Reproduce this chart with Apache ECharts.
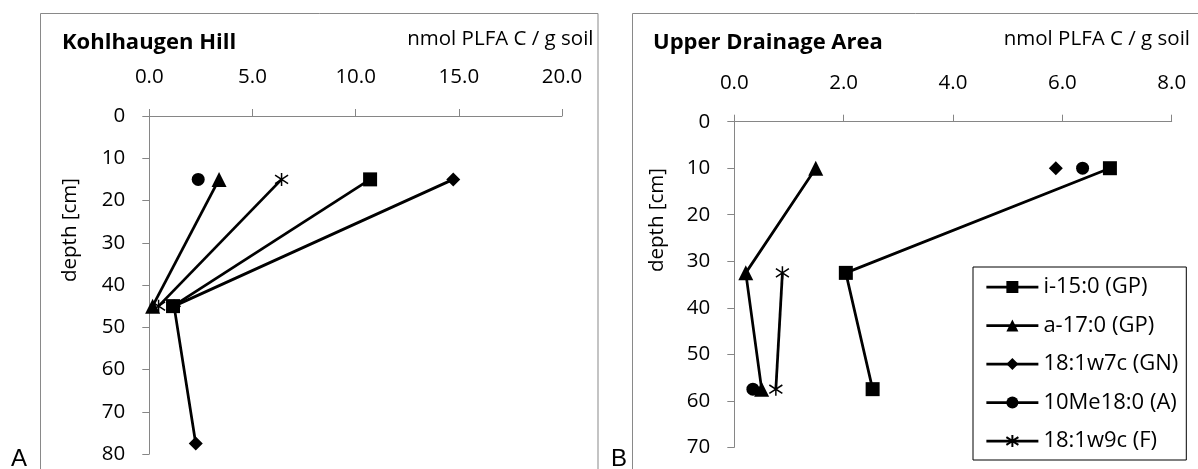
<!DOCTYPE html>
<html><head><meta charset="utf-8">
<script src="https://cdn.jsdelivr.net/npm/echarts@6/dist/echarts.min.js"></script>
<style>html,body{margin:0;padding:0;background:#fff}#c{width:1198px;height:469px}</style>
</head><body><div id="c"></div>
<script>
// ---- data ----
const seriesNames = ['i-15:0 (GP)', 'a-17:0 (GP)', '18:1w7c (GN)', '10Me18:0 (A)', '18:1w9c (F)'];
// Panel A: Kohlhaugen Hill (depth in cm, values in nmol PLFA C / g soil)
const depthA = [15, 45, 77.5];
const a_i15 = [10.7, 1.15, null];
const a_a17 = [3.38, 0.16, null];
const a_18w7 = [14.73, 1.2, 2.25];
const a_10Me = [2.37, null, null];
const a_18w9 = [6.41, 0.45, null];
// Panel B: Upper Drainage Area
const depthB = [10, 32.5, 57.5];
const b_i15 = [6.87, 2.04, 2.53];
const b_a17 = [1.49, 0.21, 0.50];
const b_18w7 = [5.88, null, null];
const b_10Me = [6.37, null, 0.34];
const b_18w9 = [null, 0.88, 0.76];
// tick values
const xTicksA = [0, 5, 10, 15, 20];
const yTicksA = [0, 10, 20, 30, 40, 50, 60, 70, 80];
const xTicksB = [0, 2, 4, 6, 8];
const yTicksB = [0, 10, 20, 30, 40, 50, 60, 70];

// ---- styles ----
const FONT = 'Open Sans';
const FS = 20.5;
const AX = '#868686';
const LW = 2.75;
const starPath = 'path://M5,0 L5,10 M0.6,1.8 L9.4,8.2 M0.6,8.2 L9.4,1.8';
const symbols = ['rect', 'triangle', 'diamond', 'circle', starPath];
const symSizes = [14, 15, 14, 13, 13];

function mk(vals, depth) {
  return depth.map((d, i) => vals[i] == null ? ['-', d] : [vals[i], d]);
}
function xAxis(ticks, gi) {
  return {
    type: 'value', gridIndex: gi, position: 'top',
    min: ticks[0], max: ticks[ticks.length - 1], interval: ticks[1] - ticks[0],
    axisLine: {show: true, lineStyle: {color: AX, width: 1}},
    axisTick: {show: true, length: 7, lineStyle: {color: AX, width: 1}},
    splitLine: {show: false},
    axisLabel: {formatter: v => v.toFixed(1), fontSize: FS, fontFamily: FONT, color: '#000', margin: 28}
  };
}
function yAxis(ticks, gi) {
  return {
    type: 'value', gridIndex: gi, inverse: true,
    min: ticks[0], max: ticks[ticks.length - 1], interval: ticks[1] - ticks[0],
    axisLine: {show: true, lineStyle: {color: AX, width: 1}},
    axisTick: {show: true, length: 7, lineStyle: {color: AX, width: 1}},
    splitLine: {show: false},
    axisLabel: {fontSize: FS, fontFamily: FONT, color: '#000', margin: 24}
  };
}
function ser(i, vals, depth, gi) {
  const isStar = i === 4;
  return {
    type: 'line', name: seriesNames[i], xAxisIndex: gi, yAxisIndex: gi,
    data: mk(vals, depth), symbol: symbols[i], symbolSize: symSizes[i],
    showAllSymbol: true, connectNulls: false, z: 2 + i,
    lineStyle: {color: '#000', width: LW},
    itemStyle: isStar ? {color: '#000', borderColor: '#000', borderWidth: 1.5} : {color: '#000', borderWidth: 0},
    emphasis: {disabled: true}
  };
}
const aVals = [a_i15, a_a17, a_18w7, a_10Me, a_18w9];
const bVals = [b_i15, b_a17, b_18w7, b_10Me, b_18w9];
const series = [];
aVals.forEach((v, i) => series.push(ser(i, v, depthA, 0)));
bVals.forEach((v, i) => series.push(ser(i, v, depthB, 1)));

const txt = (x, y, text, extra) => ({type: 'text', x, y, z: 10, style: Object.assign({text, fontFamily: FONT, fontSize: FS, fill: '#000', verticalAlign: 'middle'}, extra || {})});

const chart = echarts.init(document.getElementById('c'), null, {renderer: 'canvas'});
chart.setOption({
  animation: false,
  backgroundColor: '#fff',
  grid: [
    {left: 149.3, top: 116, width: 412.7, height: 338},
    {left: 734.3, top: 121.7, width: 437.4, height: 325.6}
  ],
  xAxis: [xAxis(xTicksA, 0), xAxis(xTicksB, 1)],
  yAxis: [yAxis(yTicksA, 0), yAxis(yTicksB, 1)],
  legend: {
    orient: 'vertical', left: 973, top: 267,
    padding: [9, 8, 8, 12], itemWidth: 52, itemHeight: 15, itemGap: 16.5,
    borderColor: '#000', borderWidth: 1, backgroundColor: '#fff',
    lineStyle: {color: '#000', width: LW},
    textStyle: {fontSize: 22, fontFamily: FONT, color: '#000'},
    selectedMode: false, data: seriesNames
  },
  graphic: [
    {type: 'rect', shape: {x: 40.5, y: 13.5, width: 557.5, height: 500}, style: {fill: 'none', stroke: '#898989', lineWidth: 1}},
    {type: 'rect', shape: {x: 632.5, y: 13.5, width: 600, height: 500}, style: {fill: 'none', stroke: '#898989', lineWidth: 1}},
    txt(62, 43, 'Kohlhaugen Hill', {fontWeight: 'bold', fontSize: 22}),
    txt(593.5, 39.5, 'nmol PLFA C / g soil', {align: 'right'}),
    txt(653, 43, 'Upper Drainage Area', {fontWeight: 'bold', fontSize: 22}),
    txt(1190, 39.5, 'nmol PLFA C / g soil', {align: 'right'}),
    Object.assign(txt(70, 230, 'depth [cm]', {align: 'center'}), {rotation: Math.PI / 2}),
    Object.assign(txt(657, 220, 'depth [cm]', {align: 'center'}), {rotation: Math.PI / 2}),
    txt(11, 459, 'A', {fontFamily: 'Liberation Sans', fontSize: 24}),
    txt(611, 459, 'B', {fontFamily: 'Liberation Sans', fontSize: 24})
  ],
  series
});
</script></body></html>
